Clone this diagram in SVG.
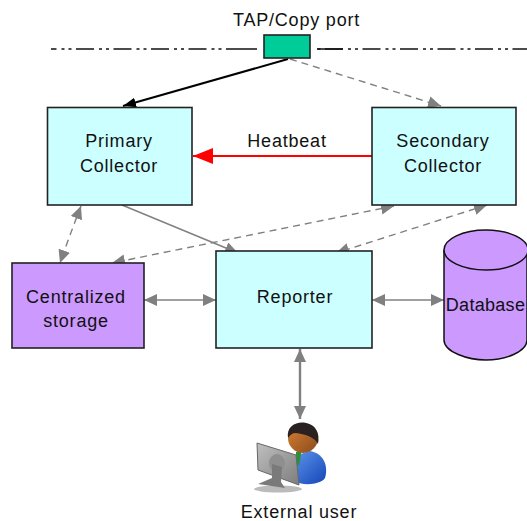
<svg xmlns="http://www.w3.org/2000/svg" width="527" height="521" viewBox="0 0 527 521">
<style>
text{font-family:"Liberation Sans",Arial,sans-serif;font-size:18px;letter-spacing:.8px;fill:#111;text-anchor:middle}
.box{stroke:#222;stroke-width:1.6}
.c{fill:#ccffff}.p{fill:#cc99ff}
.g{fill:none;stroke:#808080;stroke-width:1.4}
.d{stroke-dasharray:7 5}
.net{fill:none;stroke:#111;stroke-width:1.5}
.dd{stroke-dasharray:18 5 3 4 3 4.500}
</style>
<defs>
<marker id="ag" markerUnits="userSpaceOnUse" markerWidth="15" markerHeight="13" refX="13" refY="6" orient="auto-start-reverse"><path d="M0 0L13 6L0 12Z" fill="#808080"/></marker>
<marker id="ak" markerUnits="userSpaceOnUse" markerWidth="15" markerHeight="13" refX="13" refY="5" orient="auto"><path d="M0 0L13 5L0 10Z" fill="#000"/></marker>
<marker id="ar" markerUnits="userSpaceOnUse" markerWidth="21" markerHeight="17" refX="20" refY="8" orient="auto"><path d="M0 0L20 8L0 16Z" fill="#f00"/></marker>
<linearGradient id="suit" x1="0" y1="0" x2="1" y2="1"><stop offset="0" stop-color="#5f97ec"/><stop offset="1" stop-color="#1446b8"/></linearGradient>
<linearGradient id="face" x1="0" y1="0" x2="1" y2="1"><stop offset="0" stop-color="#d98236"/><stop offset="1" stop-color="#8a4a1c"/></linearGradient>
<linearGradient id="mon" x1="0" y1="0" x2="1" y2="1"><stop offset="0" stop-color="#c0c0c0"/><stop offset="1" stop-color="#7d7d7d"/></linearGradient>
<filter id="soft" x="-10%" y="-10%" width="120%" height="120%"><feGaussianBlur stdDeviation="0.5"/></filter>
</defs>
<g id="connectors">
<path class="net dd" d="M51 49H227" stroke-dashoffset="12.500"/>
<path class="net" d="M227 49H257"/>
<path class="net dd" d="M317 49H527" stroke-dashoffset="-8"/>
<path class="net" d="M317 49H343"/>
<path d="M288 59L123 106" fill="none" stroke="#000" stroke-width="2" marker-end="url(#ak)"/>
<path class="g d" d="M290 59L441 106" marker-end="url(#ag)"/>
<path d="M372 156H193" fill="none" stroke="#f00" stroke-width="1.800" marker-end="url(#ar)"/>
<path class="g" d="M122 205L238 253" marker-end="url(#ag)"/>
<path class="g d" d="M81 206Q68 240 60 263" marker-start="url(#ag)" marker-end="url(#ag)"/>
<path class="g d" d="M394 206L112 263" marker-start="url(#ag)" marker-end="url(#ag)"/>
<path class="g d" d="M487 205L336 253" marker-start="url(#ag)" marker-end="url(#ag)"/>
<path class="g" d="M144 300H216" marker-start="url(#ag)" marker-end="url(#ag)"/>
<path class="g" d="M372 300H444" marker-start="url(#ag)" marker-end="url(#ag)"/>
<path class="g" style="stroke-width:2.400" d="M300 349V419" marker-start="url(#ag)" marker-end="url(#ag)"/>
</g>
<g id="tap"><rect class="box" x="264" y="35" width="46" height="23" fill="#00cc99"/><text x="296.500" y="26">TAP/Copy port</text></g>
<g id="primary"><rect class="box c" x="47.500" y="107.500" width="144.500" height="97.500"/><text x="119" y="147">Primary</text><text x="119" y="172">Collector</text></g>
<g id="secondary"><rect class="box c" x="372" y="107.500" width="144" height="97.500"/><text x="443" y="147">Secondary</text><text x="443" y="172">Collector</text></g>
<g id="heartbeat"><text x="287" y="147">Heatbeat</text></g>
<g id="storage"><rect class="box p" x="12" y="263" width="132" height="85"/><text x="76" y="303">Centralized</text><text x="76" y="327">storage</text></g>
<g id="reporter"><rect class="box c" x="216" y="251" width="156" height="97"/><text x="295" y="303">Reporter</text></g>
<g id="database">
<path d="M444 250V340C444 352 468 360 486 360C505 360 527 352 527 340V250" fill="#cc99ff" stroke="#111" stroke-width="1.500"/>
<ellipse cx="486" cy="250" rx="42" ry="20" fill="#cc99ff" stroke="#111" stroke-width="1.500"/>
<text x="485.500" y="311" style="letter-spacing:.3px">Database</text></g>
<g id="user">
<g filter="url(#soft)">
<ellipse cx="278" cy="489" rx="24" ry="3.500" fill="#bbb"/>
<path d="M293 481C289 464 297 453 310 451C322 453 329 464 325 478C320 485 303 486 293 481Z" fill="url(#suit)"/>
<path d="M296 452L302 450L299 466L296 464Z" fill="#2f8f3a"/>
<circle cx="303" cy="438" r="15" fill="url(#face)"/>
<path d="M288 438C286 425 298 421 306 423C316 425 320 433 318 444C315 437 304 434 296 433C292 433 290 435 288 438Z" fill="#2a2420"/>
<path d="M257 443L296 455L299 485L258 470Z" fill="url(#mon)" stroke="#666" stroke-width="1"/>
<ellipse cx="277" cy="463" rx="8" ry="9" fill="#8f8f8f"/>
<path d="M272 464L282 467L281 482L285 488L258 484L272 478Z" fill="#7a7a7a"/>
</g>
<text x="299" y="518">External user</text></g>
</svg>
